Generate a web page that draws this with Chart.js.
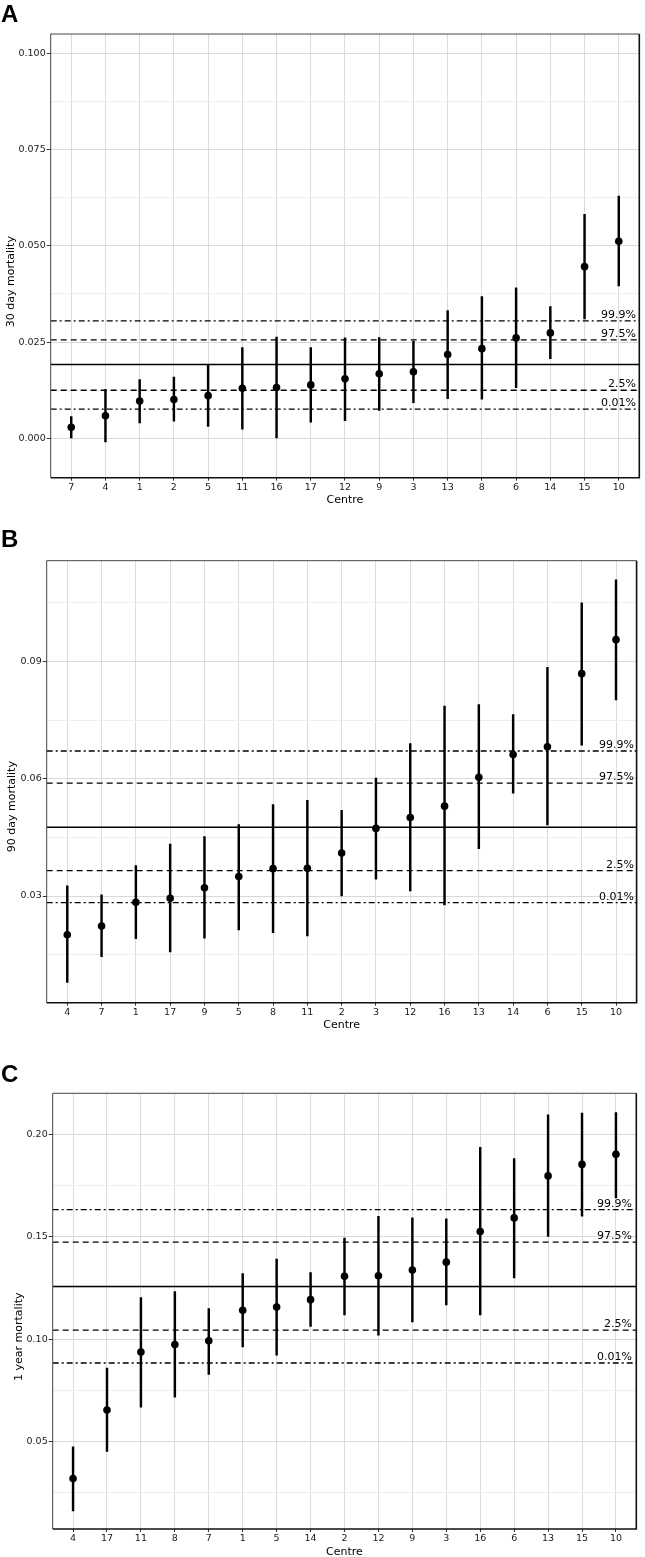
<!DOCTYPE html>
<html>
<head>
<meta charset="utf-8">
<script src="https://cdn.jsdelivr.net/npm/chart.js@4.4.0/dist/chart.umd.min.js"></script>
<style>
  html, body { margin: 0; padding: 0; background: #fff; }
  body { width: 645px; height: 1557px; position: relative; overflow: hidden; }
  canvas { position: absolute; left: 0; }
</style>
</head>
<body>
<canvas id="chartA" width="645" height="520" style="top:0"></canvas>
<canvas id="chartB" width="645" height="515" style="top:520px"></canvas>
<canvas id="chartC" width="645" height="525" style="top:1035px"></canvas>
<script>
// reference lines, bottom to top: 0.01%, 2.5%, overall, 97.5%, 99.9%
const refLabels = ['0.01%', '2.5%', '', '97.5%', '99.9%'];

// A - 30 day mortality
const centresA = ['7', '4', '1', '2', '5', '11', '16', '17', '12', '9', '3', '13', '8', '6', '14', '15', '10'];
const estA  = [0.0029, 0.0059, 0.0097, 0.0101, 0.0111, 0.0130, 0.0132, 0.0139, 0.0155, 0.0168, 0.0173, 0.0218, 0.0233, 0.0261, 0.0274, 0.0446, 0.0512];
const lowA  = [0.0000, -0.0009, 0.0040, 0.0045, 0.0031, 0.0024, 0.0000, 0.0042, 0.0046, 0.0073, 0.0093, 0.0103, 0.0102, 0.0132, 0.0207, 0.0310, 0.0396];
const highA = [0.0057, 0.0127, 0.0153, 0.0159, 0.0191, 0.0236, 0.0263, 0.0236, 0.0261, 0.0262, 0.0253, 0.0332, 0.0368, 0.0391, 0.0342, 0.0582, 0.0629];
const refA  = [0.0076, 0.0125, 0.0192, 0.0256, 0.0305];
const yTicksA = [0, 0.025, 0.05, 0.075, 0.1];
const yTickLabelsA = ['0.000', '0.025', '0.050', '0.075', '0.100'];
const yMinorA = [0.0125, 0.0375, 0.0625, 0.0875];

// B - 90 day mortality
const centresB = ['4', '7', '1', '17', '9', '5', '8', '11', '2', '3', '12', '16', '13', '14', '6', '15', '10'];
const estB  = [0.0201, 0.0223, 0.0284, 0.0294, 0.0321, 0.0350, 0.0370, 0.0371, 0.0410, 0.0473, 0.0501, 0.0530, 0.0604, 0.0662, 0.0682, 0.0869, 0.0956];
const lowB  = [0.0079, 0.0145, 0.0191, 0.0157, 0.0192, 0.0213, 0.0206, 0.0198, 0.0300, 0.0343, 0.0313, 0.0277, 0.0421, 0.0563, 0.0482, 0.0686, 0.0802];
const highB = [0.0326, 0.0303, 0.0378, 0.0433, 0.0452, 0.0483, 0.0534, 0.0545, 0.0519, 0.0602, 0.0690, 0.0786, 0.0790, 0.0764, 0.0885, 0.1050, 0.1109];
const refB  = [0.0283, 0.0365, 0.0476, 0.0589, 0.0671];
const yTicksB = [0.03, 0.06, 0.09];
const yTickLabelsB = ['0.03', '0.06', '0.09'];
const yMinorB = [0.015, 0.045, 0.075, 0.105];

// C - 1 year mortality
const centresC = ['4', '17', '11', '8', '7', '1', '5', '14', '2', '12', '9', '3', '16', '6', '13', '15', '10'];
const estC  = [0.0320, 0.0655, 0.0938, 0.0974, 0.0992, 0.1141, 0.1157, 0.1193, 0.1307, 0.1310, 0.1338, 0.1376, 0.1526, 0.1592, 0.1797, 0.1853, 0.1902];
const lowC  = [0.0162, 0.0453, 0.0668, 0.0717, 0.0828, 0.0962, 0.0922, 0.1062, 0.1119, 0.1020, 0.1085, 0.1167, 0.1118, 0.1299, 0.1502, 0.1600, 0.1690];
const highC = [0.0475, 0.0859, 0.1203, 0.1232, 0.1149, 0.1320, 0.1391, 0.1325, 0.1493, 0.1600, 0.1592, 0.1587, 0.1936, 0.1881, 0.2095, 0.2103, 0.2106];
const refC  = [0.0884, 0.1044, 0.1257, 0.1474, 0.1632];
const yTicksC = [0.05, 0.1, 0.15, 0.2];
const yTickLabelsC = ['0.05', '0.10', '0.15', '0.20'];
const yMinorC = [0.025, 0.075, 0.125, 0.175];

const FONT = 'DejaVu Sans';

function dashFor(i) {
    if (i === 0 || i === 4) return [6, 3, 2, 3];
    if (i === 1 || i === 3) return [6, 4];
    return [];
}

const panelText = {
    id: 'panelText',
    afterDatasetsDraw(chart, args, opts) {
        const { ctx, chartArea: a } = chart;
        const y = chart.scales.y;
        ctx.save();
        ctx.font = `11px "${FONT}"`;
        ctx.fillStyle = '#000';
        ctx.textAlign = 'right';
        ctx.textBaseline = 'alphabetic';
        opts.refs.forEach((v, i) => {
            if (!refLabels[i]) return;
            ctx.fillText(refLabels[i], opts.labelRight, y.getPixelForValue(v) - 3);
        });

        // panel border
        ctx.strokeStyle = '#444';
        ctx.lineWidth = 1;
        ctx.beginPath();
        ctx.moveTo(a.left, a.bottom);
        ctx.lineTo(a.left, a.top);
        ctx.lineTo(a.right, a.top);
        ctx.stroke();
        ctx.strokeStyle = '#111';
        ctx.lineWidth = 1.6;
        ctx.beginPath();
        ctx.moveTo(a.left, a.bottom);
        ctx.lineTo(a.right, a.bottom);
        ctx.lineTo(a.right, a.top);
        ctx.stroke();

        // y title
        ctx.textAlign = 'center';
        ctx.textBaseline = 'middle';
        ctx.translate(opts.titleX, opts.titleY);
        ctx.rotate(-Math.PI / 2);
        ctx.fillText(opts.yTitle, 0, 0);
        ctx.restore();

        // panel letter
        ctx.save();
        ctx.font = 'bold 24px "Liberation Sans"';
        ctx.fillStyle = '#000';
        ctx.textAlign = 'left';
        ctx.textBaseline = 'alphabetic';
        ctx.fillText(opts.letter, 1, opts.letterY);
        ctx.restore();
    }
};

function buildPanel(id, p) {
    const n = p.centres.length;
    const isMajor = v => p.majors.some(m => Math.abs(m - v) < 1e-9);
    const canvas = document.getElementById(id);
    const xAxisH = p.titleY + 6.6 - p.area.bottom;

    new Chart(canvas, {
        type: 'scatter',
        data: {
            datasets: [
                {
                    type: 'scatter',
                    data: p.est.map((v, i) => ({ x: i, y: v })),
                    pointRadius: 3.8,
                    pointBackgroundColor: '#000',
                    pointBorderWidth: 0,
                    order: 0
                },
                {
                    type: 'bar',
                    data: p.low.map((v, i) => ({ x: i, y: [v, p.high[i]] })),
                    backgroundColor: '#000',
                    borderWidth: 0,
                    barThickness: 1.8,
                    order: 1
                },
                ...p.refs.map((v, i) => ({
                    type: 'line',
                    data: [{ x: -0.6, y: v }, { x: n - 0.4, y: v }],
                    borderColor: '#000',
                    borderWidth: i === 2 ? 1.4 : 1.3,
                    borderDash: dashFor(i),
                    pointRadius: 0,
                    fill: false,
                    order: 2
                }))
            ]
        },
        options: {
            responsive: false,
            animation: false,
            devicePixelRatio: 1,
            layout: {
                padding: {
                    top: p.area.top,
                    left: 0,
                    right: canvas.width - p.area.right,
                    bottom: canvas.height - p.area.bottom - xAxisH
                }
            },
            plugins: {
                legend: { display: false },
                tooltip: { enabled: false },
                panelText: {
                    refs: p.refs,
                    labelRight: p.labelRight,
                    yTitle: p.yTitle,
                    titleX: p.yTitleX,
                    titleY: p.yTitleY,
                    letter: p.letter,
                    letterY: p.letterY
                }
            },
            scales: {
                x: {
                    type: 'linear',
                    min: -0.6,
                    max: n - 0.4,
                    offset: false,
                    afterBuildTicks: s => { s.ticks = p.centres.map((c, i) => ({ value: i })); },
                    afterFit: s => { s.height = xAxisH; },
                    ticks: {
                        autoSkip: false,
                        maxRotation: 0,
                        padding: 1,
                        color: '#1a1a1a',
                        font: { family: FONT, size: 9.5 },
                        callback: v => p.centres[v]
                    },
                    grid: { color: '#dcdcdc', lineWidth: 1, offset: false, drawTicks: true, tickLength: 3, tickColor: '#333' },
                    border: { display: false },
                    title: { display: true, text: 'Centre', color: '#000', font: { family: FONT, size: 11 }, padding: 0 }
                },
                y: {
                    type: 'linear',
                    min: p.yMin,
                    max: p.yMax,
                    afterBuildTicks: s => {
                        s.ticks = p.majors.concat(p.minors).sort((a, b) => a - b).map(v => ({ value: v }));
                    },
                    afterFit: s => { s.width = p.area.left; },
                    ticks: {
                        padding: 1,
                        color: '#1a1a1a',
                        font: { family: FONT, size: 9.5 },
                        callback: v => {
                            const k = p.majors.findIndex(m => Math.abs(m - v) < 1e-9);
                            return k < 0 ? '' : p.tickLabels[k];
                        }
                    },
                    grid: {
                        color: c => (c.tick && isMajor(c.tick.value)) ? '#d9d9d9' : '#eeeeee',
                        lineWidth: 1,
                        tickLength: 4,
                        tickColor: c => (c.tick && isMajor(c.tick.value)) ? '#333' : 'rgba(0,0,0,0)'
                    },
                    border: { display: false }
                }
            }
        },
        plugins: [panelText]
    });
}

buildPanel('chartA', {
    centres: centresA, est: estA, low: lowA, high: highA, refs: refA,
    majors: yTicksA, tickLabels: yTickLabelsA, minors: yMinorA,
    yMin: -0.0102, yMax: 0.105,
    area: { top: 34, bottom: 477.7, left: 50.7, right: 639.3 },
    titleY: 500, labelRight: 636,
    yTitle: '30 day mortality', yTitleX: 11, yTitleY: 281.7,
    letter: 'A', letterY: 22
});

buildPanel('chartB', {
    centres: centresB, est: estB, low: lowB, high: highB, refs: refB,
    majors: yTicksB, tickLabels: yTickLabelsB, minors: yMinorB,
    yMin: 0.0027, yMax: 0.1158,
    area: { top: 40.7, bottom: 482.7, left: 46.7, right: 636.6 },
    titleY: 505, labelRight: 634,
    yTitle: '90 day mortality', yTitleX: 12, yTitleY: 286.7,
    letter: 'B', letterY: 27
});

buildPanel('chartC', {
    centres: centresC, est: estC, low: lowC, high: highC, refs: refC,
    majors: yTicksC, tickLabels: yTickLabelsC, minors: yMinorC,
    yMin: 0.0074, yMax: 0.22,
    area: { top: 58.3, bottom: 494, left: 52.7, right: 636.3 },
    titleY: 516.7, labelRight: 632,
    yTitle: '1 year mortality', yTitleX: 19.5, yTitleY: 301.7,
    letter: 'C', letterY: 47
});
</script>
</body>
</html>
